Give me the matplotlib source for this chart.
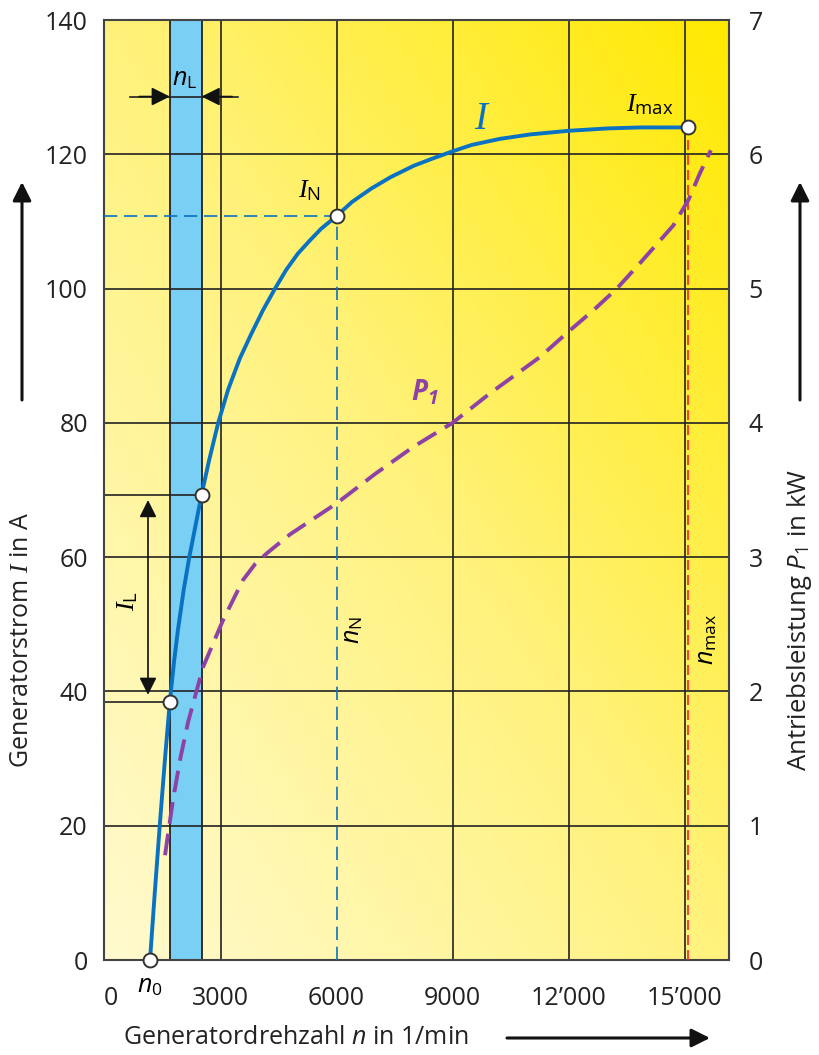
import matplotlib.pyplot as plt
import matplotlib.transforms as mtransforms
import numpy as np
from matplotlib.colors import LinearSegmentedColormap

plt.rcParams['font.family'] = ['Open Sans', 'DejaVu Sans']
plt.rcParams['mathtext.fontset'] = 'custom'
plt.rcParams['mathtext.rm'] = 'Open Sans'
plt.rcParams['mathtext.it'] = 'Liberation Serif:italic'
plt.rcParams['mathtext.sf'] = 'Open Sans:italic'
plt.rcParams['mathtext.bf'] = 'Open Sans:italic:bold'

# Generatorstrom I (A) ueber Drehzahl n (1/min)
n_strom = [1177, 1300, 1435, 1565, 1690, 1800, 1900, 2050, 2193, 2510, 2700, 2940, 3200,
           3500, 3800, 4100, 4410, 4700, 5000, 5300, 5600, 6000, 6400, 6900,
           7400, 8000, 8500, 8980, 9500, 10230, 11000, 12000, 13000, 13860, 15083]
strom = [0, 10, 20.5, 30, 38.5, 44.5, 49.2, 55.2, 60, 69.3, 74.3, 80, 85,
         89.6, 93.3, 96.8, 100, 102.8, 105.2, 107.1, 108.9, 110.8, 112.9, 114.9,
         116.6, 118.3, 119.4, 120.4, 121.4, 122.3, 122.95, 123.5, 123.85, 124, 124]

# Antriebsleistung P1 (kW)
n_leistung = [1565, 1770, 1960, 2160, 2547, 3065, 3582, 3900, 4203, 4800, 6000,
              7000, 7980, 9000, 9970, 11260, 12000, 12650, 13250, 13850, 14710,
              15100, 15400, 15680]
leistung = [0.78, 1.19, 1.5, 1.77, 2.18, 2.53, 2.83, 2.95, 3.03, 3.17, 3.4,
            3.62, 3.82, 4.0, 4.22, 4.49, 4.68, 4.84, 5.0, 5.19, 5.47,
            5.66, 5.86, 6.03]

# markierte Punkte
n0 = 1177
n_L = [1690, 2510]
I_L = [38.5, 69.3]
n_N, I_N = 6000, 110.8
n_max, I_max = 15083, 124

x_ticks = [0, 3000, 6000, 9000, 12000, 15000]
x_ticklabels = ['0', '3000', '6000', '9000', '12\u2019000', '15\u2019000']
y_ticks = [0, 20, 40, 60, 80, 100, 120, 140]
p_ticks = [0, 1, 2, 3, 4, 5, 6, 7]

XMAX = 16150
blau = '#0a72c2'
lila = '#8e42a6'
schwarz = '#222222'

fig = plt.figure(figsize=(8.19, 10.55), dpi=100)
ax = fig.add_axes([104.5 / 819, 95 / 1055, 624.5 / 819, 940 / 1055])
ax.set_xlim(0, XMAX)
ax.set_ylim(0, 140)

# Hintergrund-Verlauf
gx, gy = np.meshgrid(np.linspace(0, 1, 300), np.linspace(0, 1, 300))
cmap = LinearSegmentedColormap.from_list('gelb', ['#fffad0', '#fff27c', '#ffe900'])
ax.imshow(0.5 * gx + 0.5 * gy, extent=[0, XMAX, 0, 140], origin='lower',
          aspect='auto', cmap=cmap, zorder=0)

# Lastbereich n_L
ax.axvspan(n_L[0], n_L[1], facecolor='#7ad0f4', edgecolor=schwarz, lw=1.3, zorder=1)

# Gitter (bei n_N nur oberhalb von I_N)
for xt in x_ticks[1:]:
    unten = I_N if xt == n_N else 0
    ax.plot([xt, xt], [unten, 140], color=schwarz, lw=1.2, zorder=2)
for yt in y_ticks[1:-1]:
    ax.axhline(yt, color=schwarz, lw=1.2, zorder=2)
for n, i in zip(n_L, I_L):
    ax.plot([0, n], [i, i], color=schwarz, lw=1.2, zorder=2)

# Bezugslinien
ax.plot([0, n_N], [I_N, I_N], color=blau, lw=1.2, dashes=(8, 4), zorder=3)
ax.plot([n_N, n_N], [0, I_N], color=blau, lw=1.2, dashes=(8, 4), zorder=3)
ax.plot([n_max, n_max], [0, I_max], color='#ff2020', lw=1.2, dashes=(6, 3), zorder=3)

# Kurve I
ax.plot(n_strom, strom, color=blau, lw=2.8, solid_capstyle='round',
        solid_joinstyle='round', zorder=4)
ax.plot([n0] + n_L + [n_N, n_max], [0] + I_L + [I_N, I_max], 'o', ms=10,
        mfc='white', mec='#333333', mew=1.4, zorder=6, clip_on=False)

# Pfeile n_L und I_L
ax.plot([660, 3450], [128.6, 128.6], color=schwarz, lw=1.2, zorder=3)
pf = dict(arrowstyle='-|>', color='#111111', lw=1.2, mutation_scale=28, shrinkA=0, shrinkB=0)
ax.annotate('', xy=(n_L[0], 128.6), xytext=(900, 128.6), arrowprops=pf, zorder=3)
ax.annotate('', xy=(n_L[1], 128.6), xytext=(3300, 128.6), arrowprops=pf, zorder=3)
ax.annotate('', xy=(1125, 68.5), xytext=(1125, 39.5),
            arrowprops=dict(arrowstyle='<|-|>', color='#111111', lw=1.2,
                            mutation_scale=26, shrinkA=0, shrinkB=0), zorder=3)

# Beschriftungen im Diagramm
ax.text(2080, 131.3, r'$\mathsf{n}_{\mathrm{L}}$', fontsize=18, ha='center', va='center', zorder=5)
ax.text(610, 53.5, r'$I_{\mathrm{L}}$', fontsize=19, ha='center', va='center', rotation=90, zorder=5)
ax.text(5300, 114.6, r'$I_{\mathrm{N}}$', fontsize=19, ha='center', va='center', zorder=5)
ax.text(14100, 127.4, r'$I_{\mathrm{max}}$', fontsize=19, ha='center', va='center', zorder=5)
ax.text(9760, 125.2, r'$I$', fontsize=28, color=blau, ha='center', va='center', zorder=5)
ax.text(6430, 49.2, r'$\mathsf{n}_{\mathrm{N}}$', fontsize=18, ha='center', va='center', rotation=90, zorder=5)
ax.text(15580, 47.7, r'$\mathsf{n}_{\mathrm{max}}$', fontsize=18, ha='center', va='center', rotation=90, zorder=5)
ax.text(8290, 84.5, r'$\mathbf{P_1}$', fontsize=20, color=lila, ha='center', va='center', zorder=5)
ax.text(n0, -3.9, r'$\mathsf{n}_{0}$', fontsize=18, ha='center', va='center', zorder=5, clip_on=False)

# Achsen
ax.set_xticks(x_ticks)
ax.set_xticklabels(x_ticklabels)
ax.set_yticks(y_ticks)
ax.tick_params(axis='both', length=0, labelsize=18, colors=schwarz)
ax.tick_params(axis='x', pad=19)
ax.tick_params(axis='y', pad=12)
# die "0" der x-Achse sitzt etwas weiter rechts
null_lbl = ax.get_xticklabels()[0]
null_lbl.set_transform(null_lbl.get_transform() +
                       mtransforms.ScaledTranslation(6 / 100, 0, fig.dpi_scale_trans))
for sp in ax.spines.values():
    sp.set_color('#444444')
    sp.set_linewidth(1.5)

ax2 = ax.twinx()
ax2.set_ylim(0, 7)
ax2.set_yticks(p_ticks)
ax2.tick_params(axis='y', length=0, labelsize=18, pad=14, colors=schwarz)
ax2.plot(n_leistung, leistung, color=lila, lw=2.8, dashes=(5.6, 2.6), zorder=4)
for sp in ax2.spines.values():
    sp.set_visible(False)

# Achsentitel mit Pfeilen
fig.text(22 / 819, 1 - 640 / 1055, r'Generatorstrom $I$ in A', rotation=90,
         fontsize=18, ha='center', va='center', color=schwarz)
fig.text(800 / 819, 1 - 620 / 1055, r'Antriebsleistung $\mathsf{P}_{1}$ in kW', rotation=90,
         fontsize=18.5, ha='center', va='center', color=schwarz)
fig.text(123 / 819, 1 - 1037 / 1055, r'Generatordrehzahl $\mathsf{n}$ in 1/min',
         fontsize=18, ha='left', va='center', color=schwarz)

ap = dict(arrowstyle='-|>', color='#111111', lw=2.2, mutation_scale=28, shrinkA=0, shrinkB=0)
ax.annotate('', xy=(22, 1055 - 182), xytext=(22, 1055 - 400), xycoords='figure pixels',
            textcoords='figure pixels', arrowprops=ap, annotation_clip=False)
ax.annotate('', xy=(800, 1055 - 182), xytext=(800, 1055 - 400), xycoords='figure pixels',
            textcoords='figure pixels', arrowprops=ap, annotation_clip=False)
ax.annotate('', xy=(710, 1055 - 1038), xytext=(507, 1055 - 1038), xycoords='figure pixels',
            textcoords='figure pixels', arrowprops=ap, annotation_clip=False)

fig.savefig('out.png', dpi=100)
